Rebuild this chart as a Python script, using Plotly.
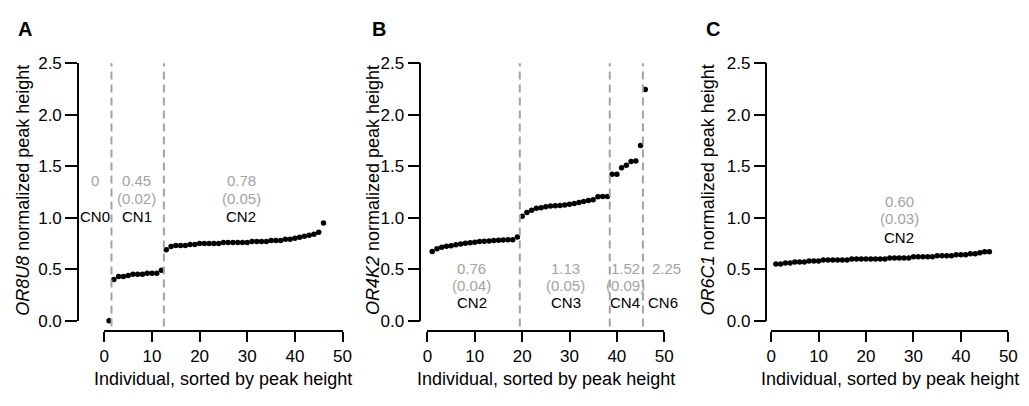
import plotly.graph_objects as go

# ---------------- data ----------------
genes = ["OR8U8", "OR4K2", "OR6C1"]
panel_letters = ["A", "B", "C"]

or8u8_values = [0.00,
                0.40, 0.43, 0.43, 0.44, 0.45, 0.45, 0.45, 0.46, 0.46, 0.46, 0.49,
                0.69, 0.72, 0.73, 0.73, 0.73, 0.74, 0.74, 0.75, 0.75, 0.75, 0.75, 0.75,
                0.76, 0.76, 0.76, 0.76, 0.76, 0.76, 0.77, 0.77, 0.77, 0.77, 0.78, 0.78,
                0.78, 0.79, 0.79, 0.80, 0.81, 0.82, 0.83, 0.84, 0.86, 0.95]
or4k2_values = [0.673, 0.698, 0.713, 0.722, 0.728, 0.738, 0.744, 0.753, 0.756, 0.762,
                0.769, 0.772, 0.775, 0.778, 0.781, 0.784, 0.787, 0.787, 0.812,
                1.015, 1.052, 1.074, 1.093, 1.096, 1.108, 1.114, 1.117, 1.120, 1.123,
                1.130, 1.139, 1.148, 1.157, 1.167, 1.176, 1.204, 1.207, 1.207,
                1.423, 1.423, 1.485, 1.509, 1.546, 1.552, 1.701,
                2.247]
or6c1_values = [0.55, 0.55, 0.56, 0.56, 0.57, 0.57, 0.57, 0.58, 0.58, 0.58,
                0.59, 0.59, 0.59, 0.59, 0.59, 0.59, 0.60, 0.60, 0.60, 0.60,
                0.60, 0.60, 0.60, 0.60, 0.61, 0.61, 0.61, 0.61, 0.61, 0.62,
                0.62, 0.62, 0.62, 0.62, 0.63, 0.63, 0.63, 0.63, 0.64, 0.64,
                0.64, 0.65, 0.65, 0.66, 0.67, 0.67]
series = [or8u8_values, or4k2_values, or6c1_values]

# copy-number class boundaries (between sorted individuals)
boundaries = [[1.5, 12.5], [19.5, 38.5, 45.5], []]

# cluster labels
cluster_x = [[-2.0, 6.8, 28.7], [9.4, 29.2, 41.8, 50.4], [27.0]]
cluster_means = [["0", "0.45", "0.78"], ["0.76", "1.13", "1.52", "2.25"], ["0.60"]]
cluster_sds = [["", "(0.02)", "(0.05)"], ["(0.04)", "(0.05)", "(0.09)", ""], ["(0.03)"]]
cluster_cn = [["CN0", "CN1", "CN2"], ["CN2", "CN3", "CN4", "CN6"], ["CN2"]]
cn_x = [[-2.0, 6.8, 28.7], [9.4, 29.2, 41.8, 49.7], [27.0]]
label_rows_y = [[1.36, 1.19, 1.01], [0.51, 0.34, 0.18], [1.16, 0.99, 0.81]]

x_ticks = [0, 10, 20, 30, 40, 50]
y_ticks = [0.0, 0.5, 1.0, 1.5, 2.0, 2.5]
x_title = "Individual, sorted by peak height"
y_title_suffix = " normalized peak height"

# ---------------- layout geometry (pixels) ----------------
W, H = 1029, 406
FONT = "Liberation Sans, Arial, Helvetica, sans-serif"
GRAY = "#a3a3a3"

# per panel: pixel of x=0, px per x unit, pixel of y-axis line
panel_geom = [(100.7, 4.83, 74.0),
              (428.3, 4.80, 421.0),
              (776.7, 4.81, 772.0)]
ytitle_px = [18, 373, 713]
letter_px = [20.5, 378.7, 718.0]

y0px, ppu_y = 327.0, 108.0      # pixel of y=0, px per y unit
xaxis_px = 338.0                # pixel row of the detached x axis
dash_bottom_px = 333.0


def py(v):
    return (H - (y0px - v * ppu_y)) / H


fig = go.Figure()
shapes = []
annotations = []

for i in range(3):
    x0px, ppu, L = panel_geom[i]
    sfx = "" if i == 0 else str(i + 1)
    xa, ya = "x" + sfx, "y" + sfx

    def px(v, x0px=x0px, ppu=ppu):
        return (x0px + v * ppu) / W

    vals = series[i]
    xs = list(range(1, len(vals) + 1))
    fig.add_trace(go.Scatter(x=xs, y=vals, mode="markers", xaxis=xa, yaxis=ya,
                             marker=dict(color="black", size=5.5), cliponaxis=False,
                             hoverinfo="x+y"))
    axis_common = dict(showgrid=False, zeroline=False, ticks="outside", showline=True,
                       linecolor="black", linewidth=1.5, tickcolor="black", tickwidth=1.5,
                       tickfont=dict(family=FONT, size=17, color="black"))
    fig.update_layout(**{
        ("xaxis" + sfx): dict(domain=[px(x_ticks[0]), px(x_ticks[-1])],
                              range=[x_ticks[0], x_ticks[-1]],
                              anchor="free", position=(H - xaxis_px) / H,
                              tickvals=x_ticks, ticklen=10, **axis_common),
        ("yaxis" + sfx): dict(domain=[py(y_ticks[0]), py(y_ticks[-1])],
                              range=[y_ticks[0], y_ticks[-1]],
                              anchor="free", position=L / W,
                              tickvals=y_ticks, tickformat=".1f", ticklen=12, **axis_common),
    })
    for b in boundaries[i]:
        shapes.append(dict(type="line", xref=xa, yref="paper", x0=b, x1=b,
                           y0=(H - dash_bottom_px) / H, y1=py(y_ticks[-1]),
                           line=dict(color=GRAY, width=2, dash="8px,5px")))
    for k, cx in enumerate(cluster_x[i]):
        ry = label_rows_y[i]
        annotations.append(dict(xref="paper", yref="paper", x=px(cx), y=py(ry[0]),
                                xanchor="center", yanchor="middle",
                                text=cluster_means[i][k], showarrow=False,
                                font=dict(family=FONT, size=15, color=GRAY)))
        if cluster_sds[i][k]:
            annotations.append(dict(xref="paper", yref="paper", x=px(cx), y=py(ry[1]),
                                    xanchor="center", yanchor="middle",
                                    text=cluster_sds[i][k], showarrow=False,
                                    font=dict(family=FONT, size=15, color=GRAY)))
        annotations.append(dict(xref="paper", yref="paper", x=px(cn_x[i][k]), y=py(ry[2]),
                                xanchor="center", yanchor="middle",
                                text=cluster_cn[i][k], showarrow=False,
                                font=dict(family=FONT, size=15, color="black")))
    annotations.append(dict(xref="paper", yref="paper", x=px(25), y=(H - 388) / H,
                            text=x_title, xanchor="center", yanchor="middle",
                            showarrow=False, font=dict(family=FONT, size=18, color="black")))
    annotations.append(dict(xref="paper", yref="paper", x=ytitle_px[i] / W, y=(H - 190) / H,
                            xanchor="center", yanchor="middle",
                            text="<i>" + genes[i] + "</i>" + y_title_suffix, textangle=-90,
                            showarrow=False, font=dict(family=FONT, size=18, color="black")))
    annotations.append(dict(xref="paper", yref="paper", x=letter_px[i] / W, y=(H - 21) / H,
                            xanchor="center", yanchor="middle",
                            text="<b>" + panel_letters[i] + "</b>", showarrow=False,
                            font=dict(family=FONT, size=20, color="black")))

fig.update_layout(width=W, height=H, margin=dict(l=0, r=0, t=0, b=0),
                  paper_bgcolor="white", plot_bgcolor="white", showlegend=False,
                  shapes=shapes, annotations=annotations)
fig.write_html("out.html", config={"displayModeBar": False},
               post_script="document.body.style.margin='0';document.body.style.overflow='hidden';")
